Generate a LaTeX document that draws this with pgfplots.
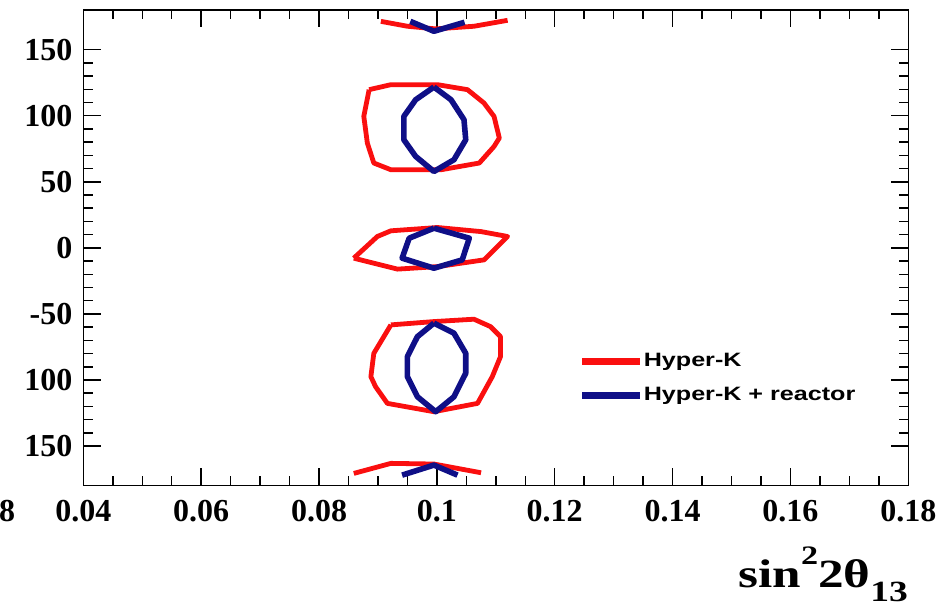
\documentclass[border=0pt]{standalone}
\usepackage{pgfplots}
\pgfplotsset{compat=1.18}
\usepackage{fontspec}
\setmainfont{Liberation Serif}
\setsansfont{Liberation Sans}
\usepackage{graphicx}
\definecolor{hkred}{RGB}{250,15,15}
\definecolor{hkblue}{RGB}{15,15,135}
\begin{document}
\begin{tikzpicture}
\path[use as bounding box] (-62.5pt,-91.7pt) rectangle (650.8pt,364.3pt);
\begin{axis}[
  at={(0,0)}, anchor=south west,
  width=618.75pt, height=356.8pt, scale only axis,
  xmin=0.04, xmax=0.18, ymin=-180, ymax=180,
  xtick={0.04,0.06,0.08,0.1,0.12,0.14,0.16,0.18},
  xticklabels={0.04,0.06,0.08,0.1,0.12,0.14,0.16,0.18},
  minor x tick num=3,
  ytick={-150,-100,-50,0,50,100,150},
  yticklabels={150,100,-50,0,50,100,150},
  minor y tick num=4,
  tick align=inside,
  major tick length=13pt, minor tick length=7pt,
  axis line style={line width=1.1pt},
  every tick/.style={black, line width=1.1pt},
  ticklabel style={font=\fontsize{24}{24}\selectfont\bfseries},
  xticklabel style={anchor=north, inner sep=0pt, yshift=-10.7pt},
  yticklabel style={anchor=east, inner sep=0pt, xshift=-8pt},
  legend style={draw=none, fill=none, at={(rel axis cs:0.6010,0.2800)}, anchor=north west,
    inner sep=0pt, outer sep=0pt, row sep=12pt,
    font=\fontsize{14.5}{14.5}\selectfont\sffamily\bfseries,
    nodes={inner sep=0pt, text height=10.5pt, text depth=3pt}},
  legend cell align=left,
  /tikz/every even column/.append style={column sep=7.5pt},
  legend image code/.code={\draw[#1, line width=5pt] (0pt,0pt) -- (43.5pt,0pt);},
  clip mode=individual,
]
% Hyper-K (red)
\addplot[hkred, line width=3.6pt, line join=round] coordinates {
 (0.0885,119.7) (0.0922,123.5) (0.1001,123.5) (0.1052,119.7) (0.1080,109.6) (0.1097,99.5)
 (0.1106,83.1) (0.1097,76.7) (0.1072,64.2) (0.1007,59.1) (0.0922,59.1) (0.0893,64.2)
 (0.0882,79.3) (0.0876,99.5) (0.0885,119.7)};
\addlegendentry{\scalebox{1.3}[1]{Hyper-K}}
% Hyper-K + reactor (blue)
\addplot[hkblue, line width=4.2pt, line join=round] coordinates {
 (0.0995,121.7) (0.1024,112.1) (0.1046,97) (0.1049,81.8) (0.1029,66.7) (0.0995,57.8)
 (0.0964,69.2) (0.0944,81.8) (0.0944,99.5) (0.0964,112.1) (0.0995,121.7)};
\addlegendentry{\scalebox{1.3}[1]{Hyper-K + reactor}}
% other red islands
\addplot[hkred, line width=3.6pt, line join=round, forget plot] coordinates {
 (0.0859,-7.8) (0.0899,8.6) (0.0922,12.9) (0.1001,15.4) (0.1075,12.3) (0.1120,8.6)
 (0.1080,-9.1) (0.1001,-14.2) (0.0933,-16.1) (0.0859,-7.8)};
\addplot[hkred, line width=3.6pt, line join=round, forget plot] coordinates {
 (0.0922,-58.3) (0.0995,-55.8) (0.1063,-54) (0.1091,-59.6) (0.1108,-67.2) (0.1108,-82.3)
 (0.1094,-97.5) (0.1069,-117.7) (0.0995,-124) (0.0916,-117.7) (0.0896,-105.1)
 (0.0888,-97.5) (0.0893,-79.8) (0.0922,-58.3)};
\addplot[hkred, line width=3.6pt, line join=round, forget plot] coordinates {
 (0.0905,171.4) (0.0950,167.7) (0.0998,165.7) (0.1063,167.7) (0.1120,172.2)};
\addplot[hkred, line width=3.6pt, line join=round, forget plot] coordinates {
 (0.0859,-170.7) (0.0922,-163.1) (0.0995,-163.6) (0.1075,-170.2)};
% other blue islands
\addplot[hkblue, line width=4.2pt, line join=round, forget plot] coordinates {
 (0.0995,14.9) (0.1055,7.3) (0.1043,-9.1) (0.0995,-15.4) (0.0941,-7.8) (0.0953,7.3) (0.0995,14.9)};
\addplot[hkblue, line width=4.2pt, line join=round, forget plot] coordinates {
 (0.0995,-57) (0.1029,-64.6) (0.1049,-79.8) (0.1049,-94.9) (0.1029,-112.7) (0.0998,-124)
 (0.0967,-112.7) (0.0950,-97.5) (0.0950,-82.3) (0.0967,-67.2) (0.0995,-57)};
\addplot[hkblue, line width=4.2pt, line join=round, forget plot] coordinates {
 (0.0955,171.4) (0.0995,163.9) (0.1047,170.7)};
\addplot[hkblue, line width=4.2pt, line join=round, forget plot] coordinates {
 (0.0941,-172) (0.0995,-164.4) (0.1035,-172)};
\end{axis}
% axis title (axis box spans (0,0) to (618.75pt,356.8pt))
\node[anchor=base east, inner sep=0pt] at (618.75pt,-76pt)
  {\scalebox{1.28}[1]{\fontsize{30}{30}\selectfont\bfseries sin\raisebox{17pt}{\fontsize{20}{20}\selectfont 2}2θ\raisebox{-11pt}{\fontsize{22}{22}\selectfont 13}}};
% cropped label of the neighbouring panel
\node[anchor=north east, inner sep=0pt, font=\fontsize{24}{24}\selectfont\bfseries] at (-51pt,-10.7pt) {0.18};
\end{tikzpicture}
\end{document}
